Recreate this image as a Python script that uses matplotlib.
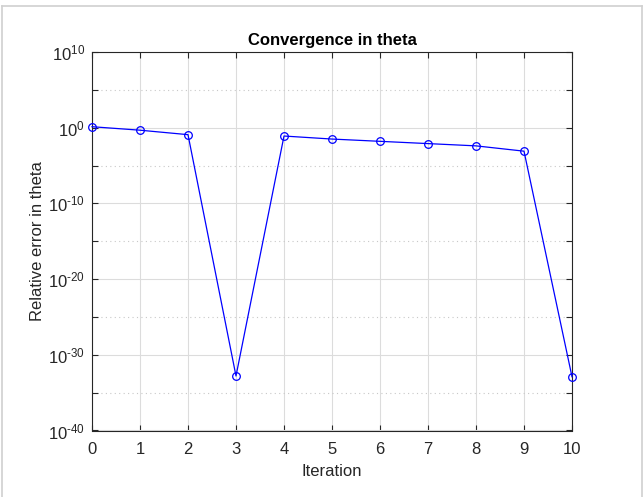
import numpy as np
import matplotlib.pyplot as plt
from matplotlib.ticker import FixedLocator, FuncFormatter
from matplotlib.lines import Line2D

plt.rcParams['font.family'] = ['Liberation Sans', 'DejaVu Sans']
plt.rcParams['mathtext.fontset'] = 'custom'
plt.rcParams['mathtext.rm'] = 'Liberation Sans'
plt.rcParams['mathtext.default'] = 'regular'
plt.rcParams['axes.unicode_minus'] = False

# data (log10 of relative error)
iteracion = [0, 1, 2, 3, 4, 5, 6, 7, 8, 9, 10]
log_error = [0.13, -0.33, -0.92, -32.8, -1.1, -1.5, -1.8, -2.1, -2.4, -3.1, -32.9]
error = [10.0 ** v for v in log_error]


def etiqueta(v, p):
    e = round(np.log10(v))
    signo = r'\text{-}' if e < 0 else ''
    return '$10^{%s%d}$' % (signo, abs(e))


fig = plt.figure(figsize=(6.44, 4.97), dpi=100)
ax = fig.add_axes([92 / 644, 1 - 430.5 / 497, 480 / 644, 378.5 / 497])

ax.semilogy(iteracion, error, color='#0000ff', linewidth=0.9, marker='o',
            markersize=5.5, markerfacecolor='none', markeredgecolor='#0000ff',
            markeredgewidth=0.9, clip_on=False, zorder=5)

ax.set_xlim(0, 10)
ax.set_ylim(1e-40, 1e10)
ax.set_xticks(range(0, 11))

ax.yaxis.set_major_locator(FixedLocator([10.0 ** e for e in range(-40, 11, 10)]))
ax.yaxis.set_minor_locator(FixedLocator([10.0 ** e for e in range(-35, 10, 10)]))
ax.yaxis.set_major_formatter(FuncFormatter(etiqueta))
ax.yaxis.set_minor_formatter(FuncFormatter(lambda v, p: ''))

ax.grid(True, which='major', color='#dcdcdc', linewidth=0.8, linestyle='-')
ax.grid(True, which='minor', axis='y', color='#c8c8c8', linewidth=0.8,
        linestyle=(0, (1, 3)))
ax.set_axisbelow(True)

ax.tick_params(which='both', direction='in', top=True, right=True,
               colors='#262626', labelsize=12, length=4, width=0.8)
ax.tick_params(axis='x', pad=8)
ax.tick_params(axis='y', pad=5)
for s in ax.spines.values():
    s.set_color('#262626')
    s.set_linewidth(0.8)

ax.set_title('Convergence in theta', fontsize=12, fontweight='bold', pad=5)
ax.set_xlabel('Iteration', fontsize=12, color='#262626', labelpad=5)
ax.set_ylabel('Relative error in theta', fontsize=12, color='#262626', labelpad=2)

# light frame of the window
W, H = 644, 497
fig.add_artist(Line2D([1.5 / W, 1.5 / W], [0, 1 - 6 / H], color='#d0d0d0',
                      linewidth=1.2, transform=fig.transFigure))
fig.add_artist(Line2D([1.5 / W, 642 / W], [1 - 6 / H, 1 - 6 / H], color='#d0d0d0',
                      linewidth=1.2, transform=fig.transFigure))
fig.add_artist(Line2D([642 / W, 642 / W], [0, 1 - 6 / H], color='#d0d0d0',
                      linewidth=1.2, transform=fig.transFigure))

plt.savefig('out.png', dpi=100)
